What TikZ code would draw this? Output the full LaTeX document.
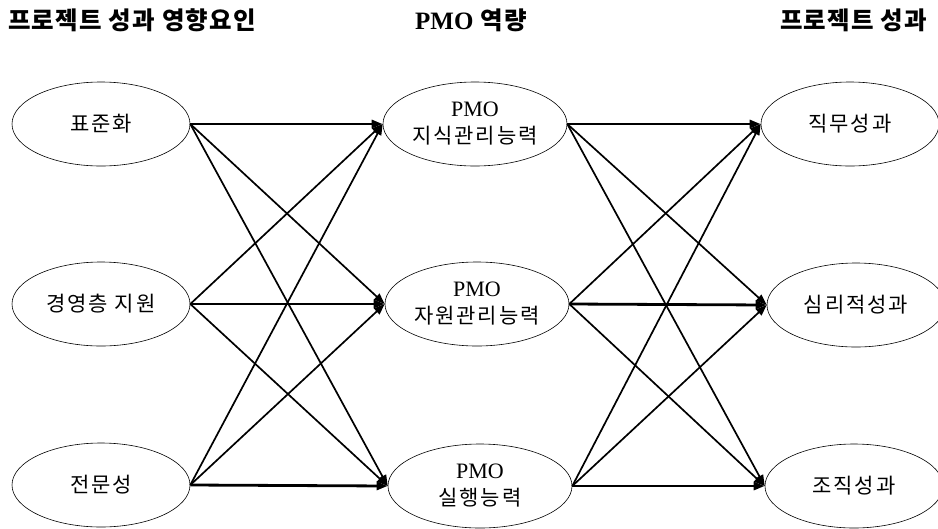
\documentclass[tikz,border=0pt]{standalone}
\usepackage{fontspec}
\setmainfont{Liberation Serif}
\newfontfamily\kr[LetterSpace=9]{Noto Sans CJK KR}
\newfontfamily\krh[LetterSpace=5]{Noto Sans CJK KR}
\usetikzlibrary{shapes.geometric,arrows.meta}
\begin{document}
\begin{tikzpicture}[x=1pt,y=-1pt,
  oval/.style={draw,ellipse,minimum width=178pt,minimum height=84pt,inner sep=0pt,line width=0.6pt},
  ovalm/.style={oval,minimum width=184pt},
  lbl/.style={font=\kr\fontsize{21}{27}\selectfont,align=center,inner sep=0pt},
  hdr/.style={font=\krh\bfseries\fontsize{24.5}{26}\selectfont,anchor=west,inner sep=0pt},
  link/.style={line width=1.7pt,-{Triangle[length=11pt,width=8pt]}},
  hlink/.style={line width=2.8pt,-{Triangle[length=11pt,width=8pt]}}]
\useasboundingbox (0,0) rectangle (938,528);
% headers
\node[hdr] (h1) at (8,20) {프로젝트 성과 영향요인};
\node[hdr] (h2) at (415,20) {{\rmfamily\fontsize{25}{26}\selectfont PMO} 역량};
\node[hdr] (h3) at (780,20) {프로젝트 성과};
% left column
\node[oval] (l1) at (101,124) {};
\node[oval] (l2) at (101,304) {};
\node[oval] (l3) at (101,485) {};
\node[lbl] (tl1) at (l1) {표준화};
\node[lbl] (tl2) at (l2) {경영층 지원};
\node[lbl] (tl3) at (l3) {전문성};
% middle column
\node[ovalm] (m1) at (475,124) {};
\node[ovalm] (m2) at (477,304) {};
\node[ovalm] (m3) at (480,486) {};
\node[lbl] (tm1) at (m1) {{\rmfamily\fontsize{22}{27}\selectfont PMO}\\지식관리능력};
\node[lbl] (tm2) at (m2) {{\rmfamily\fontsize{22}{27}\selectfont PMO}\\자원관리능력};
\node[lbl] (tm3) at (m3) {{\rmfamily\fontsize{22}{27}\selectfont PMO}\\실행능력};
% right column
\node[oval] (r1) at (850,124) {};
\node[oval] (r2) at (856,305) {};
\node[oval] (r3) at (854,486) {};
\node[lbl] (tr1) at (r1) {직무성과};
\node[lbl] (tr2) at (r2) {심리적성과};
\node[lbl] (tr3) at (r3) {조직성과};
% connectors
\foreach \i in {1,2,3}{
  \foreach \j in {1,2,3}{
    \ifnum\i=\j
      \draw[hlink] (l\i.east) -- (m\j.west);
      \draw[hlink] (m\i.east) -- (r\j.west);
    \else
      \draw[link] (l\i.east) -- (m\j.west);
      \draw[link] (m\i.east) -- (r\j.west);
    \fi
  }
}
\end{tikzpicture}
\end{document}
